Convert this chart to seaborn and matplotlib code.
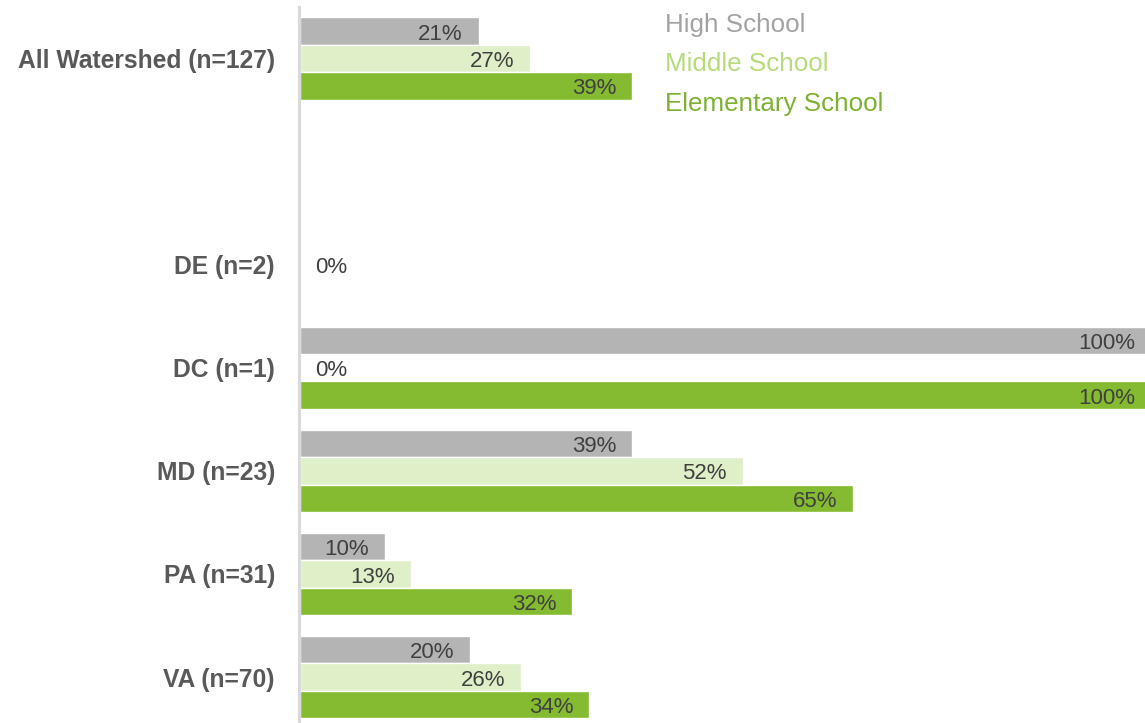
import matplotlib
matplotlib.use("Agg")
import matplotlib.pyplot as plt
import seaborn as sns
import pandas as pd
from matplotlib.lines import Line2D

categories = ["All Watershed (n=127)", " ", "DE (n=2)", "DC (n=1)", "MD (n=23)", "PA (n=31)", "VA (n=70)"]
series = ["High School", "Middle School", "Elementary School"]
high_school = [0.21, None, 0.0, 1.00, 0.39, 0.10, 0.20]
middle_school = [0.27, None, 0.0, 0.0, 0.52, 0.13, 0.26]
elementary_school = [0.39, None, 0.0, 1.00, 0.65, 0.32, 0.34]
hidden_labels = [("DE (n=2)", "High School"), ("DE (n=2)", "Elementary School")]

bar_colors = ["#b4b4b4", "#dfefc8", "#84bb30"]
legend_colors = ["#a3a3a3", "#b5dc7b", "#7cb232"]

rows = []
for name, vals in zip(series, [high_school, middle_school, elementary_school]):
    for cat, v in zip(categories, vals):
        if v is not None:
            rows.append({"cat": cat, "school": name, "value": v})
df = pd.DataFrame(rows)

sns.set_theme(style="white")
plt.rcParams["font.family"] = ["Liberation Sans", "DejaVu Sans"]

fig = plt.figure(figsize=(11.45, 7.23), dpi=100)
ax = fig.add_axes([298.5 / 1145, (723 - 728.6) / 723, 846.5 / 1145, 721.7 / 723])

sns.barplot(data=df, y="cat", x="value", hue="school", order=categories,
            hue_order=series, palette=bar_colors, orient="h", width=0.8,
            saturation=1, errorbar=None, ax=ax, legend=False)

ax.set_xlim(-0.002, 0.993)
ax.set_ylim(6.5, -0.5)
ax.set_xlabel("")
ax.set_ylabel("")
ax.set_xticks([])
for s in ["top", "right", "bottom"]:
    ax.spines[s].set_visible(False)
ax.spines["left"].set_color("#d9d9d9")
ax.spines["left"].set_linewidth(2.2)
ax.tick_params(axis="y", length=0, pad=17)
for lbl in ax.get_yticklabels():
    lbl.set_fontsize(17.7)
    lbl.set_fontweight("bold")
    lbl.set_color("#595959")

# value labels
for container, name in zip(ax.containers, series):
    for bar in container:
        w = bar.get_width()
        if w != w:  # NaN
            continue
        y = bar.get_y() + bar.get_height() / 2
        cat = categories[int(round(y))]
        if (cat, name) in hidden_labels:
            continue
        txt = f"{w * 100:.0f}%"
        if w == 0:
            ax.annotate(txt, (0, y), xytext=(10.5, -2.2), textcoords="offset points",
                        ha="left", va="center", fontsize=16, color="#404040",
                        annotation_clip=False)
        else:
            ax.annotate(txt, (w, y), xytext=(-11.5, -2.2), textcoords="offset points",
                        ha="right", va="center", fontsize=16, color="#404040",
                        annotation_clip=False)

handles = [Line2D([], [], linestyle="none") for _ in series]
leg = ax.legend(handles, series, loc="upper left", bbox_to_anchor=(655 / 1145, 1.0 - 3 / 723),
                bbox_transform=fig.transFigure, frameon=False, handlelength=0,
                handletextpad=0, fontsize=18.7, labelspacing=0.58,
                labelcolor=legend_colors, borderaxespad=0)

fig.savefig("out.png", dpi=100)
